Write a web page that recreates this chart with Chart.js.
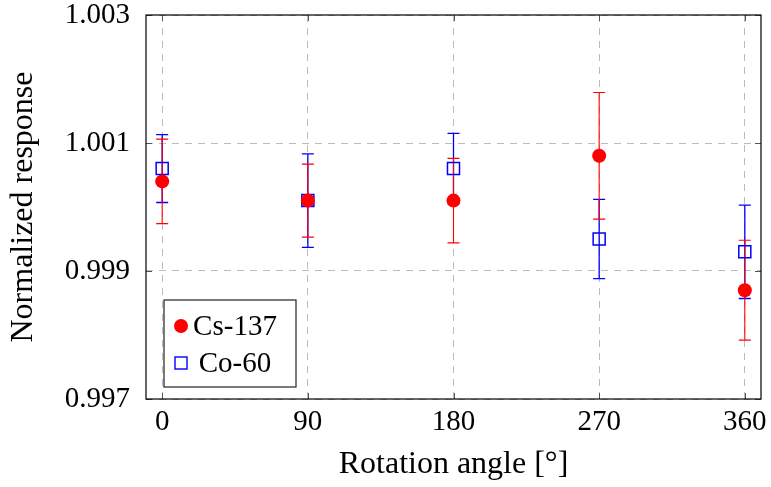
<!DOCTYPE html>
<html>
<head>
<meta charset="utf-8">
<script src="https://cdn.jsdelivr.net/npm/chart.js@4.4.1/dist/chart.umd.min.js"></script>
<style>
  html, body { margin: 0; padding: 0; background: #fff; }
  #wrap { width: 771px; height: 487px; }
</style>
</head>
<body>
<div id="wrap"><canvas id="angleChart" width="771" height="487"></canvas></div>
<script>
const angles = [0, 90, 180, 270, 360];
const csValues = [1.0004, 1.0001, 1.0001, 1.0008, 0.9987];
const csErrors = [0.00066, 0.00057, 0.00066, 0.00099, 0.00078];
const coValues = [1.0006, 1.0001, 1.0006, 0.9995, 0.9993];
const coErrors = [0.00053, 0.00073, 0.00055, 0.00062, 0.00073];
const xTicks = [0, 90, 180, 270, 360];
const yTicks = [0.997, 0.999, 1.001, 1.003];

const serif = "'Liberation Serif', 'DejaVu Serif', serif";
const red = "#ff0000";
const blue = "#0000ff";

function points(values) {
    return angles.map((a, i) => ({ x: a, y: values[i] }));
}

// error bars, inner tick marks, frame and legend
const extras = {
    id: "extras",
    beforeDatasetsDraw(chart) {
        const ctx = chart.ctx;
        const xs = chart.scales.x, ys = chart.scales.y;
        const bars = [
            { vals: coValues, errs: coErrors, color: blue, width: 1.3 },
            { vals: csValues, errs: csErrors, color: red, width: 1.1 }
        ];
        ctx.save();
        bars.forEach(b => {
            ctx.strokeStyle = b.color;
            ctx.lineWidth = b.width;
            angles.forEach((a, i) => {
                const px = xs.getPixelForValue(a);
                const top = ys.getPixelForValue(b.vals[i] + b.errs[i]);
                const bot = ys.getPixelForValue(b.vals[i] - b.errs[i]);
                ctx.beginPath();
                ctx.moveTo(px, top); ctx.lineTo(px, bot);
                ctx.moveTo(px - 6, top); ctx.lineTo(px + 6, top);
                ctx.moveTo(px - 6, bot); ctx.lineTo(px + 6, bot);
                ctx.stroke();
            });
        });
        ctx.restore();
    },
    afterDraw(chart) {
        const ctx = chart.ctx;
        const area = chart.chartArea;
        const xs = chart.scales.x, ys = chart.scales.y;
        ctx.save();
        // tick marks pointing inward
        ctx.strokeStyle = "#555";
        ctx.lineWidth = 1;
        ctx.beginPath();
        xTicks.forEach(t => {
            const px = Math.round(xs.getPixelForValue(t)) + 0.5;
            ctx.moveTo(px, area.top); ctx.lineTo(px, area.top + 6);
            ctx.moveTo(px, area.bottom); ctx.lineTo(px, area.bottom - 6);
        });
        yTicks.forEach(t => {
            const py = Math.round(ys.getPixelForValue(t)) + 0.5;
            ctx.moveTo(area.left, py); ctx.lineTo(area.left + 6, py);
            ctx.moveTo(area.right, py); ctx.lineTo(area.right - 6, py);
        });
        ctx.stroke();
        // frame
        ctx.strokeStyle = "#000";
        ctx.lineWidth = 1.2;
        ctx.strokeRect(area.left, area.top, area.right - area.left, area.bottom - area.top);

        // legend box
        const lx = area.left + 18, ly = area.bottom - 99, lw = 132, lh = 87;
        ctx.fillStyle = "#fff";
        ctx.fillRect(lx, ly, lw, lh);
        ctx.strokeStyle = "#222";
        ctx.lineWidth = 1.2;
        ctx.strokeRect(lx, ly, lw, lh);
        ctx.fillStyle = red;
        ctx.beginPath();
        ctx.arc(lx + 17, ly + 26, 7, 0, Math.PI * 2);
        ctx.fill();
        ctx.strokeStyle = blue;
        ctx.lineWidth = 1.4;
        ctx.strokeRect(lx + 11, ly + 57, 12, 12);
        ctx.fillStyle = "#000";
        ctx.font = "29px " + serif;
        ctx.textAlign = "center";
        ctx.textBaseline = "alphabetic";
        ctx.fillText("Cs-137", lx + 71, ly + 35);
        ctx.fillText("Co-60", lx + 71, ly + 72);
        ctx.restore();
    }
};

new Chart(document.getElementById("angleChart"), {
    type: "scatter",
    data: {
        datasets: [
            {
                label: "Cs-137",
                data: points(csValues),
                pointStyle: "circle",
                pointRadius: 7,
                pointHoverRadius: 7,
                backgroundColor: red,
                borderColor: red,
                borderWidth: 0
            },
            {
                label: "Co-60",
                data: points(coValues),
                pointStyle: "rect",
                pointRadius: 8.5,
                pointHoverRadius: 8.5,
                backgroundColor: "rgba(0,0,0,0)",
                borderColor: blue,
                borderWidth: 1.5
            }
        ]
    },
    options: {
        responsive: false,
        animation: false,
        layout: { padding: { top: 15, right: 9, left: 0, bottom: 0 } },
        plugins: {
            legend: { display: false },
            tooltip: { enabled: false }
        },
        scales: {
            x: {
                type: "linear",
                min: -10,
                max: 370,
                afterBuildTicks: scale => { scale.ticks = xTicks.map(v => ({ value: v })); },
                afterFit: scale => {
                    scale.height = 88;
                    scale.paddingLeft = 0;
                    scale.paddingRight = 0;
                },
                grid: {
                    color: "#bcbcbc",
                    lineWidth: 1,
                    drawTicks: false
                },
                border: { display: false, dash: [7, 6] },
                ticks: {
                    padding: 6,
                    color: "#000",
                    font: { family: serif, size: 29 },
                    callback: v => String(v)
                },
                title: {
                    display: true,
                    text: "Rotation angle [°]",
                    color: "#000",
                    font: { family: serif, size: 32 },
                    padding: { top: 0, bottom: 3 }
                }
            },
            y: {
                min: 0.997,
                max: 1.003,
                afterBuildTicks: scale => { scale.ticks = yTicks.map(v => ({ value: v })); },
                afterFit: scale => {
                    scale.width = 146;
                    scale.paddingTop = 0;
                    scale.paddingBottom = 0;
                },
                grid: {
                    color: "#bcbcbc",
                    lineWidth: 1,
                    drawTicks: false
                },
                border: { display: false, dash: [7, 6] },
                ticks: {
                    padding: 16,
                    color: "#000",
                    font: { family: serif, size: 29 },
                    callback: v => Number(v).toFixed(3)
                },
                title: {
                    display: true,
                    text: "Normalized response",
                    color: "#000",
                    font: { family: serif, size: 32 },
                    padding: { top: 4, bottom: 0 }
                }
            }
        }
    },
    plugins: [extras]
});
</script>
</body>
</html>
